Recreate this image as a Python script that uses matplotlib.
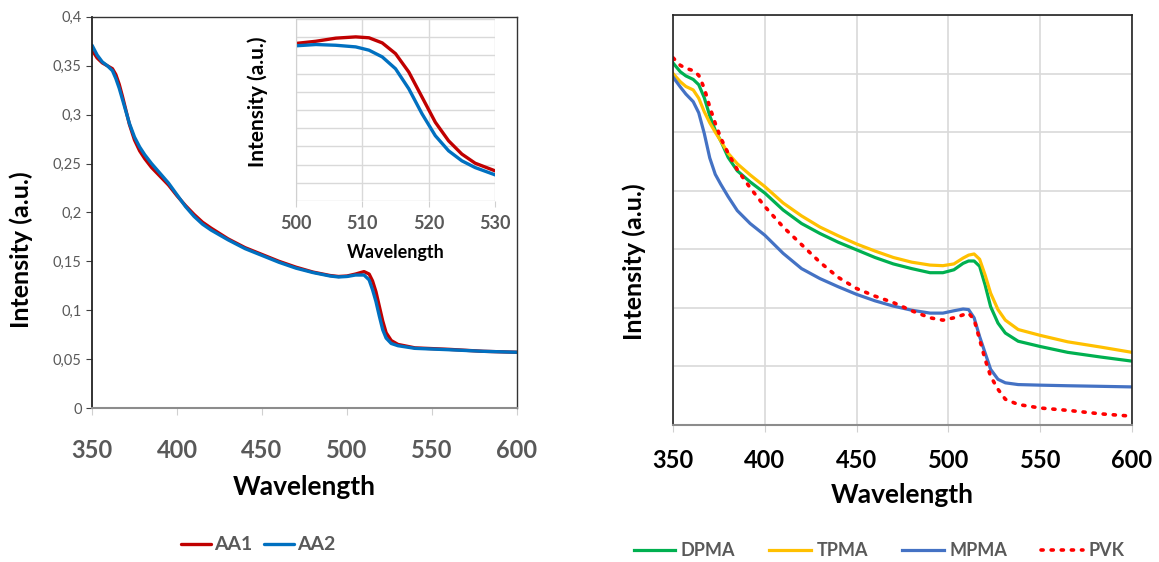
import numpy as np
import matplotlib.pyplot as plt

plt.rcParams['font.family'] = ['Lato', 'DejaVu Sans']

# left panel, main plot
wl_a = [350, 353, 356, 359, 362, 364, 366, 368, 370, 372, 375, 378, 381, 385, 390,
        395, 400, 405, 410, 415, 420, 430, 440, 450, 460, 470, 480, 490, 495, 500,
        505, 510, 513, 515, 517, 519, 521, 523, 526, 530, 540, 560, 580, 600]
aa1 = [0.366, 0.358, 0.353, 0.350, 0.347, 0.341, 0.331, 0.318, 0.304, 0.290, 0.274,
       0.263, 0.255, 0.246, 0.237, 0.228, 0.217, 0.207, 0.198, 0.190, 0.184, 0.173,
       0.164, 0.157, 0.150, 0.144, 0.139, 0.1355, 0.1345, 0.135, 0.137, 0.1395,
       0.137, 0.130, 0.119, 0.104, 0.089, 0.077, 0.069, 0.065, 0.0615, 0.060, 0.058,
       0.057]
aa2 = [0.371, 0.361, 0.354, 0.350, 0.345, 0.337, 0.327, 0.315, 0.303, 0.291, 0.277,
       0.267, 0.259, 0.250, 0.240, 0.230, 0.218, 0.206, 0.196, 0.188, 0.182, 0.172,
       0.163, 0.156, 0.149, 0.143, 0.1385, 0.135, 0.134, 0.1345, 0.136, 0.136,
       0.131, 0.121, 0.109, 0.094, 0.080, 0.0715, 0.066, 0.0637, 0.061, 0.0596,
       0.058, 0.057]

# left panel, inset (arbitrary units)
wl_in = [500, 503, 506, 509, 511, 513, 515, 517, 519, 521, 523, 525, 527, 530]
aa1_in = [8.66, 8.78, 8.95, 9.02, 8.97, 8.69, 8.10, 7.09, 5.71, 4.33, 3.31, 2.58, 2.08, 1.66]
aa2_in = [8.53, 8.60, 8.56, 8.47, 8.29, 7.92, 7.27, 6.17, 4.79, 3.59, 2.76, 2.21, 1.84, 1.44]

# right panel (arbitrary units)
wl_b = [350, 354, 357, 361, 364, 367, 370, 373, 376, 380, 385, 392, 400, 410, 420,
        430, 440, 450, 460, 470, 480, 490, 497, 503, 508, 511, 514, 517, 520, 523,
        527, 531, 538, 550, 565, 583, 600]
dpma = [6.18, 6.03, 5.96, 5.90, 5.81, 5.59, 5.28, 5.03, 4.85, 4.57, 4.34, 4.15, 3.96,
        3.67, 3.44, 3.27, 3.12, 2.99, 2.86, 2.75, 2.67, 2.60, 2.60, 2.65, 2.76, 2.80,
        2.80, 2.71, 2.39, 2.02, 1.74, 1.57, 1.43, 1.34, 1.24, 1.16, 1.09]
tpma = [6.00, 5.86, 5.78, 5.72, 5.58, 5.35, 5.16, 5.00, 4.85, 4.64, 4.46, 4.27, 4.07,
        3.79, 3.57, 3.38, 3.23, 3.09, 2.97, 2.86, 2.78, 2.73, 2.72, 2.75, 2.85, 2.90,
        2.92, 2.83, 2.56, 2.25, 1.97, 1.79, 1.63, 1.53, 1.42, 1.33, 1.24]
mpma = [5.94, 5.77, 5.65, 5.52, 5.33, 4.98, 4.56, 4.28, 4.11, 3.90, 3.66, 3.44, 3.24,
        2.93, 2.67, 2.50, 2.36, 2.23, 2.12, 2.03, 1.96, 1.91, 1.91, 1.95, 1.98, 1.97,
        1.83, 1.51, 1.23, 0.95, 0.78, 0.72, 0.69, 0.68, 0.67, 0.66, 0.65]
pvk = [6.27, 6.14, 6.09, 6.05, 5.97, 5.75, 5.43, 5.15, 4.90, 4.64, 4.36, 4.05, 3.73,
       3.38, 3.08, 2.78, 2.52, 2.33, 2.20, 2.09, 1.95, 1.83, 1.79, 1.83, 1.88, 1.91,
       1.80, 1.46, 1.12, 0.83, 0.61, 0.44, 0.35, 0.29, 0.25, 0.19, 0.15]

xticks = [350, 400, 450, 500, 550, 600]
yticks_a = [0, 0.05, 0.1, 0.15, 0.2, 0.25, 0.3, 0.35, 0.4]
ytick_labels_a = ['0', '0,05', '0,1', '0,15', '0,2', '0,25', '0,3', '0,35', '0,4']

gray = '#595959'
axgray = '#8c8c8c'
grid = '#d9d9d9'

fig = plt.figure(figsize=(11.59, 5.62), dpi=100)

# ---- left ----
ax1 = fig.add_axes([0.0794, 0.274, 0.3667, 0.696])
ax1.plot(wl_a, aa1, color='#C00000', lw=2.4, label='AA1', solid_capstyle='round')
ax1.plot(wl_a, aa2, color='#0070C0', lw=2.4, label='AA2', solid_capstyle='round')
ax1.set_xlim(350, 600)
ax1.set_ylim(0, 0.4)
ax1.set_xticks(xticks)
ax1.set_yticks(yticks_a)
ax1.set_yticklabels(ytick_labels_a)
ax1.tick_params(axis='y', labelsize=10.5, labelcolor=gray, length=4, color='#404040')
ax1.tick_params(axis='x', labelsize=17, labelcolor=gray, length=5, color='#d0d0d0', pad=17)
for t in ax1.get_xticklabels():
    t.set_fontweight('bold')
ax1.spines['bottom'].set_color(axgray)
ax1.spines['bottom'].set_linewidth(1.5)
ax1.spines['left'].set_color('#222222')
ax1.spines['left'].set_linewidth(1.3)
for s in ['top', 'right']:
    ax1.spines[s].set_color('#333333')
    ax1.spines[s].set_linewidth(1.0)
ax1.set_xlabel('Wavelength', fontsize=19, fontweight='bold', labelpad=10)
ax1.set_ylabel('Intensity (a.u.)', fontsize=18, fontweight='bold')
ax1.yaxis.set_label_coords(-0.139, 0.404)

# inset
ax_in = fig.add_axes([0.2554, 0.6423, 0.1717, 0.3238])
ax_in.plot(wl_in, aa1_in, color='#C00000', lw=2.4)
ax_in.plot(wl_in, aa2_in, color='#0070C0', lw=2.4)
ax_in.set_xlim(500, 530)
ax_in.set_ylim(0, 10)
ax_in.set_xticks([500, 510, 520, 530])
ax_in.set_yticks(np.arange(0, 11, 1))
ax_in.set_yticklabels([])
ax_in.grid(True, color=grid, lw=1.0)
ax_in.tick_params(axis='y', length=0)
ax_in.tick_params(axis='x', labelsize=13, labelcolor=gray, length=4, color='#d0d0d0', pad=6)
for t in ax_in.get_xticklabels():
    t.set_fontweight('bold')
for s in ['top', 'right', 'bottom']:
    ax_in.spines[s].set_visible(False)
ax_in.spines['left'].set_color('#d0d0d0')
ax_in.set_xlabel('Wavelength', fontsize=13, fontweight='bold', labelpad=9)
ax_in.set_ylabel('Intensity (a.u.)', fontsize=15, fontweight='bold')
ax_in.yaxis.set_label_coords(-0.14, 0.544)

fig.legend(*ax1.get_legend_handles_labels(), loc='center', ncol=2,
           bbox_to_anchor=(258 / 1159, 1 - 545 / 562), frameon=False,
           prop={'size': 14, 'weight': 'bold'}, labelcolor=gray,
           handlelength=1.55, handletextpad=0.15, columnspacing=0.6)

# ---- right ----
ax2 = fig.add_axes([0.5807, 0.2438, 0.396, 0.7295])
ax2.plot(wl_b, dpma, color='#00B050', lw=2.3, label='DPMA')
ax2.plot(wl_b, tpma, color='#FFC000', lw=2.3, label='TPMA')
ax2.plot(wl_b, mpma, color='#4472C4', lw=2.3, label='MPMA')
ax2.plot(wl_b, pvk, color='#FF0000', lw=2.6, ls=(0, (0.6, 2.2)),
         dash_capstyle='round', label='PVK')
ax2.set_xlim(350, 600)
ax2.set_ylim(0, 7)
ax2.set_xticks(xticks)
ax2.set_yticks(np.arange(0, 8, 1))
ax2.set_yticklabels([])
ax2.grid(True, color=grid, lw=1.2)
ax2.tick_params(axis='y', length=0)
ax2.tick_params(axis='x', labelsize=17, labelcolor='black', length=5, color='#d0d0d0', pad=12)
for t in ax2.get_xticklabels():
    t.set_fontweight('bold')
ax2.spines['bottom'].set_color(axgray)
ax2.spines['bottom'].set_linewidth(1.5)
for s in ['top', 'right', 'left']:
    ax2.spines[s].set_color('#222222')
    ax2.spines[s].set_linewidth(1.2)
ax2.set_xlabel('Wavelength', fontsize=19, fontweight='bold', labelpad=8)
ax2.set_ylabel('Intensity (a.u.)', fontsize=18, fontweight='bold')
ax2.yaxis.set_label_coords(-0.059, 0.398)

fig.legend(*ax2.get_legend_handles_labels(), loc='center', ncol=4,
           bbox_to_anchor=(879 / 1159, 1 - 551 / 562), frameon=False,
           prop={'size': 13, 'weight': 'bold'}, labelcolor=gray,
           handlelength=2.3, handletextpad=0.3, columnspacing=1.9)

fig.savefig('out.png', dpi=100)
